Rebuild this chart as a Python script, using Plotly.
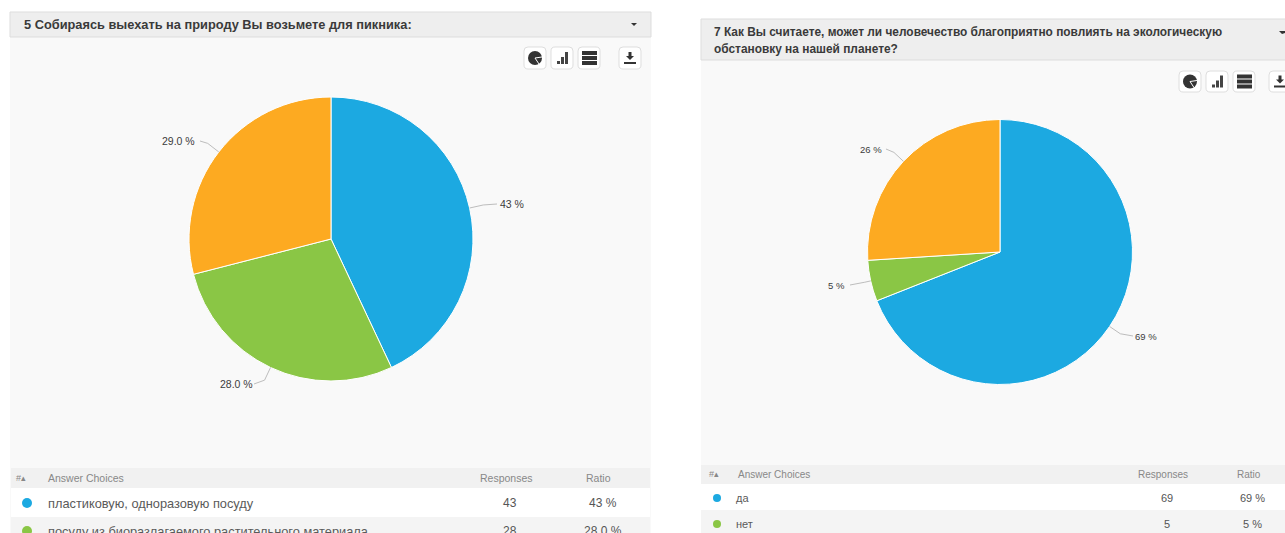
import math
import plotly.graph_objects as go

W, H = 1285, 533
FONT = "Liberation Sans"

# Survey results
q5_title = "5 Собираясь выехать на природу Вы возьмете для пикника:"
q5_choices = ["пластиковую, одноразовую посуду",
              "посуду из биоразлагаемого растительного материала",
              "другое"]
q5_values = [43, 28, 29]
q5_ratio = ["43 %", "28.0 %", "29.0 %"]

q7_title = ["7 Как Вы считаете, может ли человечество благоприятно повлиять на экологическую",
            "обстановку на нашей планете?"]
q7_choices = ["да", "нет", "затрудняюсь ответить"]
q7_values = [69, 5, 26]
q7_ratio = ["69 %", "5 %", "26 %"]

slice_colors = ["#1CA9E1", "#8AC645", "#FDAA21"]


def px(x):
    return x / W


def py(y):
    return 1 - y / H


shapes = []
annotations = []


def rect(x0, y0, x1, y1, fill, line=None, width=1):
    shapes.append(dict(type="rect", xref="paper", yref="paper",
                       x0=px(x0), x1=px(x1), y0=py(y0), y1=py(y1), fillcolor=fill,
                       line=dict(color=line or fill, width=width if line else 0), layer="below"))


def rounded(x0, y0, x1, y1, r, fill, line):
    d = (f"M{px(x0 + r):.5f},{py(y0):.5f} L{px(x1 - r):.5f},{py(y0):.5f} "
         f"Q{px(x1):.5f},{py(y0):.5f} {px(x1):.5f},{py(y0 + r):.5f} "
         f"L{px(x1):.5f},{py(y1 - r):.5f} Q{px(x1):.5f},{py(y1):.5f} {px(x1 - r):.5f},{py(y1):.5f} "
         f"L{px(x0 + r):.5f},{py(y1):.5f} Q{px(x0):.5f},{py(y1):.5f} {px(x0):.5f},{py(y1 - r):.5f} "
         f"L{px(x0):.5f},{py(y0 + r):.5f} Q{px(x0):.5f},{py(y0):.5f} {px(x0 + r):.5f},{py(y0):.5f} Z")
    shapes.append(dict(type="path", xref="paper", yref="paper", path=d, fillcolor=fill,
                       line=dict(color=line, width=1), layer="below"))


def path(points, color=None, width=1, fill=None, closed=False, layer="above"):
    d = "M" + " L".join(f"{px(a):.5f},{py(b):.5f}" for a, b in points) + (" Z" if closed else "")
    shapes.append(dict(type="path", xref="paper", yref="paper", path=d,
                       fillcolor=fill or "rgba(0,0,0,0)",
                       line=dict(color=color or "rgba(0,0,0,0)", width=width if color else 0),
                       layer=layer))


def dot(cx, cy, r, color, layer="above"):
    shapes.append(dict(type="circle", xref="paper", yref="paper",
                       x0=px(cx - r), x1=px(cx + r), y0=py(cy - r), y1=py(cy + r),
                       fillcolor=color, line=dict(width=0), layer=layer))


def text(x, y, s, size=11, color="#555555", anchor="left"):
    annotations.append(dict(xref="paper", yref="paper", x=px(x), y=py(y), text=s, showarrow=False,
                            xanchor=anchor, yanchor="middle", align=anchor,
                            borderpad=0, borderwidth=0,
                            font=dict(family=FONT, size=size, color=color)))


def toolbar(xs, y0, y1):
    """Chart-type buttons and the download button of a panel header."""
    for x in xs:
        rounded(x, y0, x + 22, y1, 4, "#FFFFFF", "#DEDEDE")
    cy = (y0 + y1) / 2
    # pie button
    cx = xs[0] + 11
    dot(cx, cy, 7, "#333333")
    path([(cx, cy), (cx + 7, cy - 1)], color="#FFFFFF", width=1)
    path([(cx, cy), (cx + 4, cy + 6)], color="#FFFFFF", width=1)
    # bar button
    bx = xs[1] + 6
    for i, h in enumerate((3, 7, 12)):
        rect(bx + i * 4, cy + 6 - h, bx + i * 4 + 3, cy + 6, "#444444")
    # stacked button
    sx = xs[2] + 4
    for i in range(3):
        rect(sx, cy - 7 + i * 5, sx + 15, cy - 7 + i * 5 + 4, "#333333")
    # download button
    dx = xs[3] + 11
    path([(dx - 4, cy - 2), (dx + 4, cy - 2), (dx, cy + 2)], fill="#333333")
    rect(dx - 1.5, cy - 6, dx + 1.5, cy - 1, "#333333")
    rect(dx - 6, cy + 4, dx + 6, cy + 6, "#333333")


def leaders(cx, cy, r, values, ratio, anchors, size):
    """Leader line and value label for every slice, placed from the slice's mid-angle."""
    total = sum(values)
    run = 0
    for v, label, (lx, ly, elbow, tx, anchor) in zip(values, ratio, anchors):
        mid = (run + v / 2) / total * 2 * math.pi
        run += v
        sx, sy = math.sin(mid), -math.cos(mid)
        edge = (cx + r * sx, cy + r * sy)
        bend = (cx + (r + elbow) * sx, cy + (r + elbow) * sy)
        path([edge, bend, (lx, ly)], color="#BDBDBD", width=1)
        text(tx, ly, label, size=size, color="#3C3C3C", anchor=anchor)


def pie_trace(cx, cy, r, labels, values):
    return go.Pie(labels=labels, values=values, sort=False, direction="clockwise", rotation=0,
                  marker=dict(colors=slice_colors, line=dict(color="#FFFFFF", width=1)),
                  textinfo="none", hoverinfo="label+percent", showlegend=False,
                  domain=dict(x=[px(cx - r), px(cx + r)], y=[py(cy + r), py(cy - r)]))


# Left panel
rect(10, 37, 651, 533, "#F9F9F9")
rect(10, 12, 651, 37, "#EEEEEE", "#DDDDDD")
text(24, 24, f"<b>{q5_title}</b>", size=12.8, color="#3A3A3A")
path([(631, 23), (637, 23), (634, 26)], fill="#333333")
toolbar([524, 551, 578, 619], 47, 69)

rect(11, 468, 650, 488, "#F1F1F1")
rect(11, 488, 650, 517, "#FFFFFF")
rect(11, 517, 650, 533, "#F4F4F4")
text(16, 478, "#▴", size=9, color="#888888")
text(48, 478, "Answer Choices", size=10.5, color="#888888")
text(506, 478, "Responses", size=10.5, color="#888888", anchor="center")
text(598, 478, "Ratio", size=10.5, color="#888888", anchor="center")
dot(27, 503, 5, slice_colors[0])
dot(27, 531, 5, slice_colors[1])
text(48, 503, q5_choices[0], size=12.8, color="#5A5A5A")
text(48, 531, q5_choices[1], size=12.8, color="#5A5A5A")
text(510, 503, str(q5_values[0]), size=12, anchor="center")
text(510, 531, str(q5_values[1]), size=12, anchor="center")
text(603, 503, q5_ratio[0], size=12, anchor="center")
text(603, 531, q5_ratio[1], size=12, anchor="center")

leaders(331, 239, 142, q5_values, q5_ratio,
        [(497, 204, 14, 500, "left"),
         (254, 384, 14, 253, "right"),
         (200, 141, 14, 195, "right")], 10.5)

# Right panel
rect(701, 60, 1285, 533, "#F9F9F9")
rect(701, 19, 1290, 60, "#EEEEEE", "#DDDDDD")
text(714, 32, f"<b>{q7_title[0]}</b>", size=11.9, color="#3A3A3A")
text(714, 49, f"<b>{q7_title[1]}</b>", size=11.9, color="#3A3A3A")
path([(1279, 31), (1285, 31), (1285, 33), (1282, 34)], fill="#333333")
toolbar([1179, 1206, 1233, 1269], 71, 92)

rect(701, 465, 1285, 484, "#F1F1F1")
rect(701, 484, 1285, 510, "#FFFFFF")
rect(701, 510, 1285, 533, "#F4F4F4")
text(709, 474, "#▴", size=9, color="#888888")
text(738, 474, "Answer Choices", size=10, color="#888888")
text(1163, 474, "Responses", size=10, color="#888888", anchor="center")
text(1249, 474, "Ratio", size=10, color="#888888", anchor="center")
dot(717, 498, 4, slice_colors[0])
dot(717, 524, 4, slice_colors[1])
text(736, 498, q7_choices[0], size=11, color="#5A5A5A")
text(736, 524, q7_choices[1], size=11, color="#5A5A5A")
text(1167, 498, str(q7_values[0]), size=11, anchor="center")
text(1167, 524, str(q7_values[1]), size=11, anchor="center")
text(1252, 498, q7_ratio[0], size=11, anchor="center")
text(1252, 524, q7_ratio[1], size=11, anchor="center")

leaders(1000, 252, 132.5, q7_values, q7_ratio,
        [(1133, 336, 13, 1135, "left"),
         (850, 285, 6, 845, "right"),
         (886, 149, 13, 882, "right")], 9.5)

fig = go.Figure([
    pie_trace(331, 239, 142, q5_choices, q5_values),
    pie_trace(1000, 252, 132.5, q7_choices, q7_values),
])
fig.update_layout(width=W, height=H, autosize=False, margin=dict(l=0, r=0, t=0, b=0),
                  paper_bgcolor="#FFFFFF", shapes=shapes, annotations=annotations,
                  font=dict(family=FONT))
fig.write_html("out.html", config=dict(displayModeBar=False))
